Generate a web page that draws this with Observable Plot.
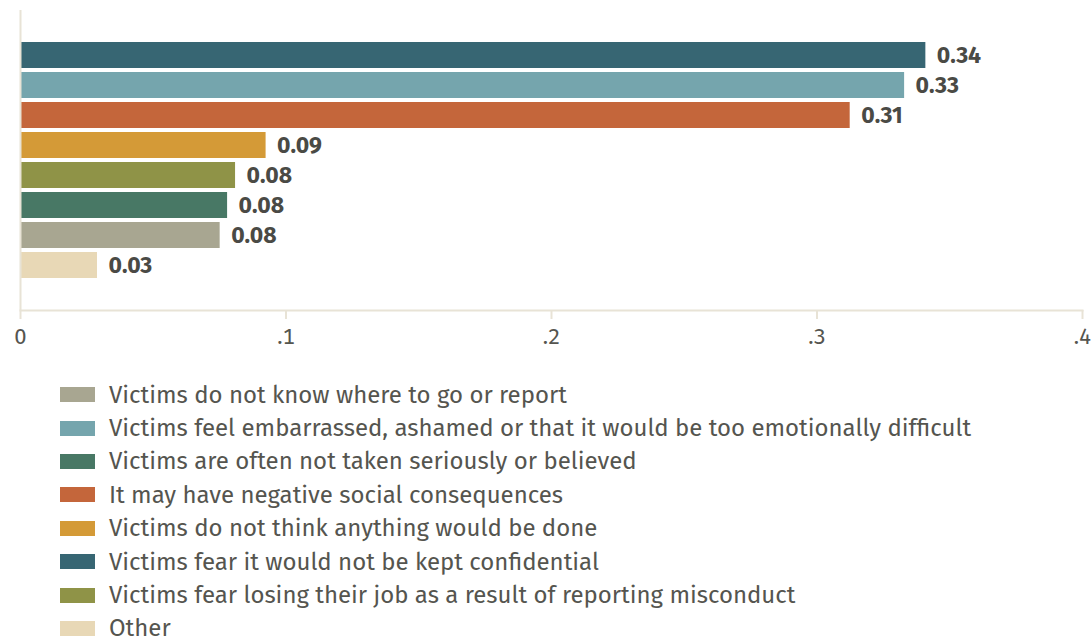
<!DOCTYPE html>
<html>
<head>
<meta charset="utf-8">
<script src="https://cdn.jsdelivr.net/npm/d3@7"></script>
<script src="https://cdn.jsdelivr.net/npm/@observablehq/plot@0.6"></script>
<style>
  html, body { margin: 0; padding: 0; background: #fff; }
  body { width: 1092px; height: 640px; overflow: hidden; font-family: "Fira Sans", "Open Sans", sans-serif; }
  #chart svg { display: block; }
  #legend { margin-left: 60px; margin-top: 16px; }
  .row { display: flex; align-items: center; height: 33.4px; }
  .sw { width: 35px; height: 15px; margin-right: 14px; flex: none; }
  .lab { font-size: 24px; line-height: 1; color: #55554f; white-space: nowrap; }
</style>
</head>
<body>
<div id="chart"></div>
<div id="legend"></div>
<script>
// Legend order categories and colours
const categories = [
  "Victims do not know where to go or report",
  "Victims feel embarrassed, ashamed or that it would be too emotionally difficult",
  "Victims are often not taken seriously or believed",
  "It may have negative social consequences",
  "Victims do not think anything would be done",
  "Victims fear it would not be kept confidential",
  "Victims fear losing their job as a result of reporting misconduct",
  "Other"
];
const values = [0.0752, 0.333, 0.078, 0.3125, 0.0925, 0.341, 0.081, 0.029];
const colors = ["#a8a691", "#75a5ad", "#487865", "#c4663b", "#d49a37", "#376673", "#8f9347", "#e8d8b6"];
const xTicks = [0, 0.1, 0.2, 0.3, 0.4];

const data = categories.map((c, i) => ({category: c, value: values[i], color: colors[i]}));
const order = data.slice().sort((a, b) => b.value - a.value).map(d => d.category);

const axisColor = "#e8e3d6";
const fmtTick = d => d === 0 ? "0" : d3.format(".1f")(d).replace(/^0/, "");
const chart = Plot.plot({
  width: 1092,
  height: 362,
  marginLeft: 20,
  marginRight: 10,
  marginTop: 10,
  marginBottom: 52,
  style: {fontFamily: "'Fira Sans', 'Open Sans', sans-serif", background: "#fff"},
  x: {domain: [0, 0.4], ticks: xTicks, tickFormat: fmtTick, label: null},
  y: {domain: order, paddingInner: 0.14, paddingOuter: 1.02, axis: null},
  color: {domain: categories, range: colors},
  marks: [
    Plot.barX(data, {y: "category", x: "value", fill: "category"}),
    Plot.text(data, {y: "category", x: "value", text: d => d3.format(".2f")(d.value), textAnchor: "start", dx: 11, fontSize: 23, fontWeight: "bold", fill: "#4a4a45"}),
    Plot.ruleX([0], {stroke: axisColor, strokeWidth: 2}),
    Plot.axisX({ticks: xTicks, tickSize: 9, tickPadding: 9, stroke: axisColor, strokeWidth: 2, fontSize: 22, fill: "#55554f", tickFormat: fmtTick, label: null}),
    Plot.frame({anchor: "bottom", stroke: axisColor, strokeWidth: 2})
  ]
});
document.getElementById("chart").appendChild(chart);

const legend = document.getElementById("legend");
categories.forEach((c, i) => {
  const row = document.createElement("div");
  row.className = "row";
  const sw = document.createElement("div");
  sw.className = "sw";
  sw.style.background = colors[i];
  const lab = document.createElement("div");
  lab.className = "lab";
  lab.textContent = c;
  row.appendChild(sw);
  row.appendChild(lab);
  legend.appendChild(row);
});
</script>
</body>
</html>
